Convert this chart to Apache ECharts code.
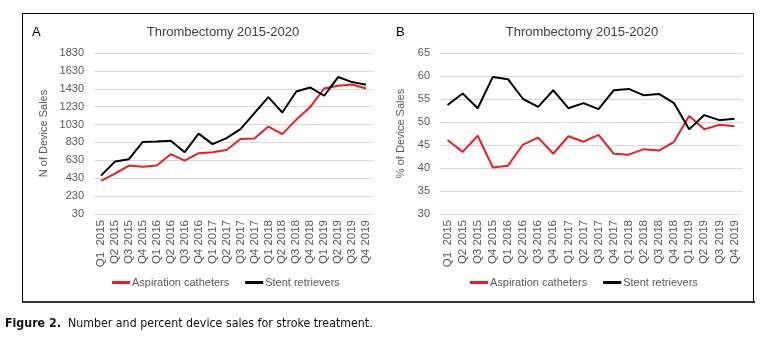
<!DOCTYPE html>
<html>
<head>
<meta charset="utf-8">
<script src="https://cdn.jsdelivr.net/npm/echarts@6/dist/echarts.min.js"></script>
<style>
html,body{margin:0;padding:0;background:#fff;}
#c{width:766px;height:344px;}
</style>
</head>
<body>
<div id="c"></div>
<script>
var categories = ['Q1  2015','Q2 2015','Q3 2015','Q4 2015','Q1 2016','Q2 2016','Q3 2016','Q4 2016',
  'Q1 2017','Q2 2017','Q3 2017','Q4 2017','Q1 2018','Q2 2018','Q3 2018','Q4 2018',
  'Q1 2019','Q2 2019','Q3 2019','Q4 2019'];
var aspirationCount = [400,482,571,557,573,699,627,710,721,745,869,875,1008,923,1085,1225,1433,1464,1478,1433];
var stentCount = [459,616,643,836,840,848,721,929,811,878,979,1158,1337,1165,1400,1445,1352,1561,1505,1475];
var aspirationPct = [46.1,43.5,47.0,40.1,40.5,45.1,46.6,43.1,46.9,45.7,47.2,43.1,42.9,44.1,43.8,45.7,51.3,48.4,49.4,49.1];
var stentPct = [53.7,56.2,53.0,59.8,59.3,55.0,53.3,56.9,53.0,54.1,52.8,56.9,57.2,55.8,56.1,54.1,48.4,51.5,50.4,50.7];
var countTicks = [30,230,430,630,830,1030,1230,1430,1630,1830];
var pctTicks = [30,35,40,45,50,55,60,65];
var seriesNames = ['Aspiration catheters','Stent retrievers'];
var titleText = 'Thrombectomy 2015-2020';

var FONT = '"Liberation Sans", Arial, sans-serif';
var NARROW = '"Liberation Sans Narrow", "DejaVu Sans Condensed", sans-serif';
var GREY = '#595959';
var RED = '#ee1c25';
var BLACK = '#000000';

var chart = echarts.init(document.getElementById('c'), null, {renderer: 'canvas'});

function xAxis(gi) {
  return {
    type: 'category', gridIndex: gi, data: categories, boundaryGap: true,
    axisLine: {show: false}, axisTick: {show: false},
    axisLabel: {rotate: 90, margin: 6, color: GREY, fontSize: 11.5, fontFamily: FONT, interval: 0}
  };
}
function plain(v) { return String(v); }

var option = {
  animation: false,
  textStyle: {fontFamily: FONT},
  title: [
    {text: titleText, left: 223, top: 26, textAlign: 'center', padding: 0,
     textStyle: {fontSize: 13, fontWeight: 'normal', color: '#404040', fontFamily: FONT}},
    {text: titleText, left: 582, top: 26, textAlign: 'center', padding: 0,
     textStyle: {fontSize: 13, fontWeight: 'normal', color: '#404040', fontFamily: FONT}}
  ],
  legend: [
    {data: seriesNames, left: 112, top: 277, itemWidth: 18, itemHeight: 3, itemGap: 16, padding: 0,
     icon: 'rect', textStyle: {fontSize: 11, color: GREY, fontFamily: FONT, padding: [0, 0, 0, -3]}},
    {data: seriesNames, left: 470, top: 277, itemWidth: 18, itemHeight: 3, itemGap: 16, padding: 0,
     icon: 'rect', textStyle: {fontSize: 11, color: GREY, fontFamily: FONT, padding: [0, 0, 0, -3]}}
  ],
  grid: [
    {left: 94, right: 393, top: 53, bottom: 130, containLabel: false},
    {left: 440, right: 24, top: 53, bottom: 130, containLabel: false}
  ],
  xAxis: [xAxis(0), xAxis(1)],
  yAxis: [
    {type: 'value', gridIndex: 0, min: countTicks[0], max: countTicks[countTicks.length - 1],
     name: 'N of Device Sales', nameLocation: 'middle', nameGap: 45, nameRotate: 90,
     nameTextStyle: {fontSize: 11, color: GREY, fontFamily: FONT},
     axisLine: {show: false}, axisTick: {show: false, customValues: countTicks},
     axisLabel: {customValues: countTicks, formatter: plain, margin: 10, color: GREY, fontSize: 11, fontFamily: FONT},
     splitLine: {show: true, lineStyle: {color: '#d9d9d9', width: 1}}},
    {type: 'value', gridIndex: 1, min: pctTicks[0], max: pctTicks[pctTicks.length - 1], interval: 5,
     name: '% of Device Sales', nameLocation: 'middle', nameGap: 34, nameRotate: 90,
     nameTextStyle: {fontSize: 11, color: GREY, fontFamily: FONT},
     axisLine: {show: false}, axisTick: {show: false},
     axisLabel: {formatter: plain, margin: 10, color: GREY, fontSize: 11, fontFamily: FONT},
     splitLine: {show: true, lineStyle: {color: '#d9d9d9', width: 1}}}
  ],
  series: [
    {name: seriesNames[0], type: 'line', xAxisIndex: 0, yAxisIndex: 0, data: aspirationCount,
     showSymbol: false, lineStyle: {color: RED, width: 2}, itemStyle: {color: RED}},
    {name: seriesNames[1], type: 'line', xAxisIndex: 0, yAxisIndex: 0, data: stentCount,
     showSymbol: false, lineStyle: {color: BLACK, width: 2}, itemStyle: {color: BLACK}},
    {name: seriesNames[0], type: 'line', xAxisIndex: 1, yAxisIndex: 1, data: aspirationPct,
     showSymbol: false, lineStyle: {color: RED, width: 2}, itemStyle: {color: RED}},
    {name: seriesNames[1], type: 'line', xAxisIndex: 1, yAxisIndex: 1, data: stentPct,
     showSymbol: false, lineStyle: {color: BLACK, width: 2}, itemStyle: {color: BLACK}}
  ],
  graphic: [
    {type: 'rect', shape: {x: 22.5, y: 13.5, width: 731, height: 288}, silent: true,
     style: {fill: 'none', stroke: '#000', lineWidth: 1}},
    {type: 'line', shape: {x1: 22, y1: 302, x2: 755, y2: 302}, silent: true,
     style: {stroke: '#333', lineWidth: 2}},
    {type: 'text', left: 32, top: 26, silent: true,
     style: {text: 'A', fontSize: 13, fill: '#000', fontFamily: FONT}},
    {type: 'text', left: 396, top: 26, silent: true,
     style: {text: 'B', fontSize: 13, fill: '#000', fontFamily: FONT}},
    {type: 'text', left: 5, top: 318, silent: true,
     style: {
       text: '{b|Figure 2.}  Number and percent device sales for stroke treatment.',
       fontSize: 12.3, fill: '#111', fontFamily: NARROW,
       rich: {b: {fontWeight: 'bold', fontSize: 12.3, fill: '#111', fontFamily: NARROW}}
     }}
  ]
};
chart.setOption(option);
</script>
</body>
</html>
